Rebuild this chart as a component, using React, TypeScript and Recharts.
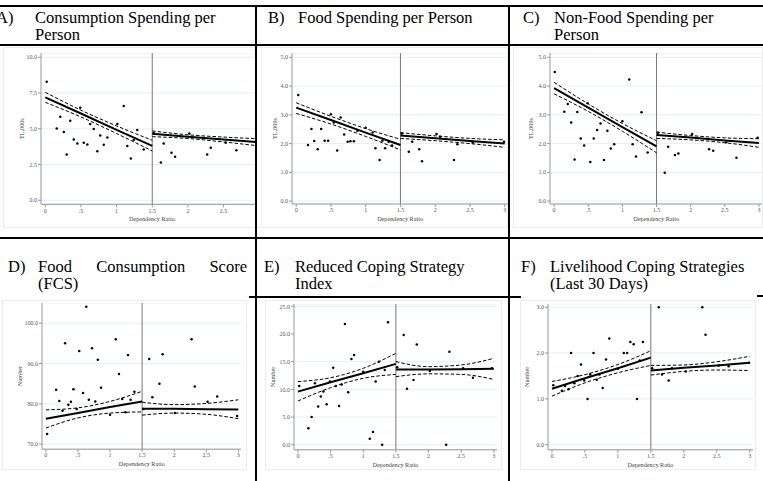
import React from "react";
import {
  ComposedChart,
  Scatter,
  Line,
  XAxis,
  YAxis,
  CartesianGrid,
  ReferenceLine
} from "recharts";

// shared x axis
const xTicks = [0, 0.5, 1, 1.5, 2, 2.5, 3];
const xTickLabels = ["0", ".5", "1", "1.5", "2", "2.5", "3"];
const fitXLeft = [0, 0.5, 1, 1.5];
const fitXRight = [1.5, 2, 2.5, 3];

// A) Consumption spending per person
const ratioA = [0.02, 0.16, 0.21, 0.26, 0.3, 0.35, 0.4, 0.45, 0.49, 0.54, 0.59, 0.63, 0.68, 0.73, 0.77, 0.82, 0.87, 1.01, 1.1, 1.15, 1.2, 1.24, 1.29, 1.38, 1.52, 1.62, 1.66, 1.77, 1.82, 2.02, 2.27, 2.32, 2.53, 2.68];
const valueA = [8.29, 5.02, 5.84, 4.77, 3.2, 5.56, 4.25, 3.97, 6.47, 4.02, 3.9, 5.33, 4.98, 3.43, 4.53, 3.88, 4.39, 5.33, 6.59, 3.79, 2.92, 4.21, 4.91, 3.55, 4.7, 2.64, 3.97, 3.32, 3.04, 4.67, 3.2, 3.67, 4.02, 3.5];
const aLeftFit = [7.2, 6.07, 4.93, 3.8];
const aLeftHi = [7.55, 6.3, 5.2, 4.2];
const aLeftLo = [6.85, 5.83, 4.67, 3.45];
const aRightFit = [4.65, 4.45, 4.25, 4.05];
const aRightHi = [4.85, 4.58, 4.42, 4.3];
const aRightLo = [4.45, 4.32, 4.08, 3.8];

// B) Food spending per person
const ratioB = [0.03, 0.17, 0.22, 0.26, 0.31, 0.36, 0.41, 0.46, 0.5, 0.54, 0.59, 0.64, 0.69, 0.74, 0.78, 0.83, 0.88, 1.0, 1.1, 1.14, 1.2, 1.24, 1.28, 1.33, 1.38, 1.52, 1.62, 1.67, 1.77, 1.81, 2.02, 2.07, 2.27, 2.32, 2.54, 2.99];
const valueB = [3.69, 1.95, 2.51, 2.09, 1.8, 2.51, 2.1, 2.1, 3.02, 2.73, 1.76, 2.91, 2.32, 2.06, 2.08, 2.08, 2.45, 2.55, 2.39, 1.84, 1.43, 2.1, 1.84, 2.06, 1.93, 2.35, 1.72, 2.06, 1.8, 1.39, 2.33, 2.24, 1.43, 1.98, 2.04, 2.06];
const bLeftFit = [3.25, 2.82, 2.38, 1.95];
const bLeftHi = [3.42, 2.95, 2.52, 2.15];
const bLeftLo = [3.05, 2.68, 2.25, 1.78];
const bRightFit = [2.28, 2.19, 2.09, 2.0];
const bRightHi = [2.38, 2.27, 2.18, 2.13];
const bRightLo = [2.18, 2.1, 2.0, 1.87];

// C) Non-food spending per person
const ratioC = [0.01, 0.15, 0.2, 0.25, 0.3, 0.34, 0.39, 0.44, 0.49, 0.53, 0.58, 0.63, 0.68, 0.73, 0.78, 0.83, 0.88, 1.0, 1.1, 1.15, 1.2, 1.28, 1.37, 1.52, 1.62, 1.67, 1.77, 1.82, 2.02, 2.27, 2.33, 2.52, 2.67, 2.98];
const valueC = [4.49, 3.11, 3.38, 2.73, 1.45, 3.1, 2.18, 1.93, 3.4, 1.36, 2.18, 2.47, 2.7, 1.43, 2.45, 1.83, 1.98, 2.78, 4.23, 1.98, 1.55, 3.09, 1.69, 2.38, 0.99, 1.89, 1.6, 1.66, 2.33, 1.8, 1.75, 2.05, 1.51, 2.2];
const cLeftFit = [3.93, 3.25, 2.57, 1.9];
const cLeftHi = [4.13, 3.38, 2.7, 2.1];
const cLeftLo = [3.73, 3.12, 2.43, 1.68];
const cRightFit = [2.3, 2.21, 2.11, 2.02];
const cRightHi = [2.4, 2.28, 2.2, 2.17];
const cRightLo = [2.18, 2.13, 2.03, 1.87];

// D) Food consumption score
const ratioD = [0.02, 0.16, 0.21, 0.26, 0.3, 0.35, 0.39, 0.43, 0.48, 0.52, 0.58, 0.63, 0.67, 0.72, 0.77, 0.81, 0.86, 1.0, 1.09, 1.14, 1.19, 1.24, 1.28, 1.32, 1.38, 1.52, 1.61, 1.66, 1.77, 1.82, 2.01, 2.27, 2.32, 2.52, 2.67, 2.98];
const valueD = [72.5, 83.5, 80.7, 78.3, 95.0, 79.8, 80.5, 83.6, 78.7, 93.1, 82.7, 104.1, 81.0, 93.8, 80.6, 90.9, 84.0, 77.3, 96.0, 87.4, 81.2, 77.9, 92.1, 81.0, 83.0, 78.7, 91.1, 81.6, 85.0, 92.3, 77.7, 96.0, 84.3, 80.5, 81.8, 77.0];
const dLeftFit = [76.3, 77.7, 79.2, 80.6];
const dLeftHi = [78.5, 79.0, 80.6, 83.1];
const dLeftLo = [74.0, 76.5, 77.7, 78.0];
const dRightFit = [78.8, 78.75, 78.65, 78.6];
const dRightHi = [80.4, 79.8, 80.1, 81.0];
const dRightLo = [77.2, 77.7, 77.4, 76.3];

// E) Reduced coping strategy index
const ratioE = [0.02, 0.16, 0.21, 0.26, 0.31, 0.35, 0.39, 0.44, 0.49, 0.54, 0.58, 0.63, 0.67, 0.72, 0.77, 0.82, 0.86, 1.0, 1.1, 1.15, 1.19, 1.24, 1.29, 1.33, 1.38, 1.52, 1.62, 1.67, 1.77, 1.82, 2.02, 2.27, 2.32, 2.53, 2.68, 2.97];
const valueE = [10.6, 3.0, 5.0, 11.1, 6.9, 8.7, 9.6, 7.3, 11.4, 13.9, 10.6, 7.0, 10.9, 21.8, 9.5, 15.5, 16.2, 13.2, 1.1, 2.3, 11.4, 15.0, 0.0, 13.5, 22.1, 14.0, 19.8, 10.1, 11.7, 18.1, 13.3, 0.0, 16.8, 13.8, 12.1, 13.8];
const eLeftFit = [9.6, 11.3, 12.9, 14.6];
const eLeftHi = [11.4, 12.1, 13.8, 16.5];
const eLeftLo = [7.9, 10.3, 12.0, 12.7];
const eRightFit = [13.6, 13.6, 13.65, 13.7];
const eRightHi = [15.0, 14.1, 14.4, 15.6];
const eRightLo = [12.3, 12.8, 12.7, 11.8];

// F) Livelihood coping strategies
const ratioF = [0.02, 0.15, 0.2, 0.25, 0.29, 0.34, 0.39, 0.44, 0.49, 0.54, 0.58, 0.63, 0.68, 0.72, 0.77, 0.82, 0.87, 1.0, 1.09, 1.14, 1.19, 1.24, 1.29, 1.33, 1.38, 1.52, 1.62, 1.67, 1.77, 1.82, 2.03, 2.28, 2.33, 2.53, 2.68, 2.99];
const valueF = [1.3, 1.18, 1.28, 1.21, 2.0, 1.34, 1.5, 1.75, 1.4, 1.0, 1.53, 2.0, 1.42, 1.53, 1.24, 1.86, 2.32, 1.66, 2.0, 2.0, 2.24, 2.19, 1.0, 1.84, 2.24, 1.67, 3.0, 1.53, 1.4, 1.67, 1.6, 3.0, 2.4, 1.73, 1.71, 1.79];
const fLeftFit = [1.22, 1.45, 1.67, 1.9];
const fLeftHi = [1.38, 1.53, 1.75, 2.05];
const fLeftLo = [1.06, 1.35, 1.57, 1.73];
const fRightFit = [1.62, 1.68, 1.73, 1.79];
const fRightHi = [1.73, 1.74, 1.81, 1.93];
const fRightLo = [1.52, 1.6, 1.63, 1.62];

const serif = "'Liberation Serif', 'Times New Roman', serif";
const Y_W = 30;
const X_H = 24;

const pts = (xs: number[], ys: number[]) => xs.map((x, i) => ({ x, y: ys[i] }));

const Dot = (p: any) => <circle cx={p.cx} cy={p.cy} r={1.25} fill="#000" />;

function Panel({ box, yDomain, yTicks, yTitle, yGap, ratio, value, fits, shownX }: any) {
  const width = box.right - box.left + Y_W;
  const height = box.bottom - box.top + X_H;
  const [lf, lh, ll, rf, rh, rl] = fits;
  const tickStyle = { fontSize: 6, fill: "#555", fontFamily: serif };
  const dash = { stroke: "#000", strokeWidth: 1, strokeDasharray: "3.5 2", dot: false, isAnimationActive: false, type: "monotone" as const };
  return (
    <div style={{ position: "absolute", left: box.left - Y_W, top: box.top }}>
      <ComposedChart width={width} height={height} margin={{ top: 0, right: 0, bottom: 0, left: 0 }}>
        <CartesianGrid vertical={false} stroke="#e6eff1" />
        <XAxis
          type="number"
          dataKey="x"
          domain={[-0.06, 3.05]}
          allowDataOverflow
          ticks={shownX || xTicks}
          tickFormatter={(v: number) => xTickLabels[xTicks.indexOf(v)]}
          height={X_H}
          tickSize={3}
          tickMargin={1}
          stroke="#999"
          tick={tickStyle}
          label={{
            content: (p: any) => {
              const vb = p.viewBox;
              return (
                <text x={vb.x + vb.width / 2} y={vb.y + 17} textAnchor="middle" fontSize={6.2} fontFamily={serif} fill="#444">
                  Dependency Ratio
                </text>
              );
            }
          }}
        />
        <YAxis
          type="number"
          dataKey="y"
          domain={yDomain}
          allowDataOverflow
          ticks={yTicks}
          tickFormatter={(v: number) => v.toFixed(1)}
          width={Y_W}
          tickSize={3}
          tickMargin={1}
          stroke="#999"
          tick={tickStyle}
          label={{
            content: (p: any) => {
              const vb = p.viewBox;
              const x = vb.x + vb.width - yGap;
              const y = vb.y + vb.height / 2;
              return (
                <text x={x} y={y} transform={`rotate(-90 ${x} ${y})`} textAnchor="middle" dominantBaseline="central" fontSize={6.2} fontFamily={serif} fill="#444">
                  {yTitle}
                </text>
              );
            }
          }}
        />
        <ReferenceLine x={1.5} stroke="#777" strokeWidth={1} />
        <Line data={pts(fitXLeft, lh)} dataKey="y" {...dash} />
        <Line data={pts(fitXLeft, ll)} dataKey="y" {...dash} />
        <Line data={pts(fitXRight, rh)} dataKey="y" {...dash} />
        <Line data={pts(fitXRight, rl)} dataKey="y" {...dash} />
        <Line data={pts(fitXLeft, lf)} dataKey="y" type="linear" stroke="#000" strokeWidth={2} dot={false} isAnimationActive={false} />
        <Line data={pts(fitXRight, rf)} dataKey="y" type="linear" stroke="#000" strokeWidth={2} dot={false} isAnimationActive={false} />
        <Scatter data={pts(ratio, value)} shape={Dot} isAnimationActive={false} />
      </ComposedChart>
    </div>
  );
}

const titleLabels = ["A)", "B)", "C)", "D)", "E)", "F)"];
const titleLines = [
  ["Consumption Spending per", "Person"],
  ["Food Spending per Person"],
  ["Non-Food Spending per", "Person"],
  ["Food Consumption Score", "(FCS)"],
  ["Reduced Coping Strategy", "Index"],
  ["Livelihood Coping Strategies", "(Last 30 Days)"]
];

const titlePos = [
  { lx: -4, tx: 35, top: 10 },
  { lx: 268, tx: 298, top: 10 },
  { lx: 523, tx: 554, top: 10 },
  { lx: 8, tx: 38, top: 259, justify: 209 },
  { lx: 264, tx: 295, top: 259 },
  { lx: 521, tx: 550, top: 259 }
];

const regionBoxes = [
  { l: 3, t: 47, r: 262, b: 228 },
  { l: 261, t: 47, r: 508, b: 228 },
  { l: 513, t: 47, r: 763, b: 228 },
  { l: 2, t: 300, r: 247, b: 470 },
  { l: 265, t: 300, r: 502, b: 470 },
  { l: 520, t: 300, r: 756, b: 470 }
];

const hLine = (x1: number, x2: number, y: number) => (
  <div style={{ position: "absolute", left: x1, top: y - 0.75, width: x2 - x1, height: 1.5, background: "#000" }} />
);
const vLine = (x: number, y1: number, y2: number) => (
  <div style={{ position: "absolute", left: x - 0.75, top: y1, width: 1.5, height: y2 - y1, background: "#000" }} />
);

export default function App() {
  const panels = [
    { box: { left: 40.7, right: 262.5, top: 52.7, bottom: 204 }, yDomain: [-0.28, 10.3], yTicks: [0, 2.5, 5, 7.5, 10], yTitle: "TL,000s", yGap: 19, ratio: ratioA, value: valueA, fits: [aLeftFit, aLeftHi, aLeftLo, aRightFit, aRightHi, aRightLo], shownX: xTicks.slice(0, 6) },
    { box: { left: 291.5, right: 507.7, top: 53, bottom: 204 }, yDomain: [-0.1, 5.15], yTicks: [0, 1, 2, 3, 4, 5], yTitle: "TL,000s", yGap: 17, ratio: ratioB, value: valueB, fits: [bLeftFit, bLeftHi, bLeftLo, bRightFit, bRightHi, bRightLo] },
    { box: { left: 549.6, right: 762, top: 53, bottom: 204 }, yDomain: [-0.1, 5.15], yTicks: [0, 1, 2, 3, 4, 5], yTitle: "TL,000s", yGap: 19, ratio: ratioC, value: valueC, fits: [cLeftFit, cLeftHi, cLeftLo, cRightFit, cRightHi, cRightLo] },
    { box: { left: 41.9, right: 241.5, top: 303.1, bottom: 449.3 }, yDomain: [68.75, 105], yTicks: [70, 80, 90, 100], yTitle: "Number", yGap: 23, ratio: ratioD, value: valueD, fits: [dLeftFit, dLeftHi, dLeftLo, dRightFit, dRightHi, dRightLo] },
    { box: { left: 294.4, right: 497.5, top: 303.5, bottom: 449.3 }, yDomain: [-0.9, 25.4], yTicks: [0, 5, 10, 15, 20, 25], yTitle: "Number", yGap: 21, ratio: ratioE, value: valueE, fits: [eLeftFit, eLeftHi, eLeftLo, eRightFit, eRightHi, eRightLo] },
    { box: { left: 548, right: 753, top: 303.5, bottom: 449.3 }, yDomain: [-0.11, 3.07], yTicks: [0, 1, 2, 3], yTitle: "Number", yGap: 21, ratio: ratioF, value: valueF, fits: [fLeftFit, fLeftHi, fLeftLo, fRightFit, fRightHi, fRightLo] }
  ];

  const titleFont = { fontFamily: serif, fontSize: 16.5, lineHeight: "16.5px", color: "#000", whiteSpace: "nowrap" as const };

  return (
    <div style={{ position: "relative", width: 763, height: 481, overflow: "hidden", background: "#fff" }}>
      <style>{"body{margin:0}"}</style>

      {regionBoxes.map((r, i) => (
        <div key={"rb" + i} style={{ position: "absolute", left: r.l, top: r.t, width: r.r - r.l, height: r.b - r.t, border: "1px solid #ededed", boxSizing: "border-box" }} />
      ))}

      {/* panel A is cut at the cell border */}
      <div style={{ position: "absolute", left: 0, top: 0, width: 256, height: 240, overflow: "hidden" }}>
        <Panel {...panels[0]} />
      </div>
      {panels.slice(1).map((p, i) => (
        <Panel key={"p" + i} {...p} />
      ))}

      {titleLabels.map((lab, i) => {
        const pos = titlePos[i];
        return (
          <React.Fragment key={"t" + i}>
            <div style={{ position: "absolute", left: pos.lx, top: pos.top, ...titleFont }}>{lab}</div>
            <div style={{ position: "absolute", left: pos.tx, top: pos.top, ...titleFont }}>
              {titleLines[i].map((ln, j) => (
                <div key={j} style={pos.justify && j === 0 ? { width: pos.justify, textAlign: "justify", textAlignLast: "justify", whiteSpace: "normal" } : {}}>
                  {ln}
                </div>
              ))}
            </div>
          </React.Fragment>
        );
      })}

      {hLine(0, 763, 6)}
      {hLine(0, 763, 45)}
      {hLine(0, 763, 238)}
      {vLine(256, 6, 481)}
      {vLine(509, 6, 481)}
      {hLine(256, 509, 297)}
      {hLine(249, 263, 297)}
      {hLine(503, 521, 297)}
      {hLine(757, 763, 296)}
    </div>
  );
}
